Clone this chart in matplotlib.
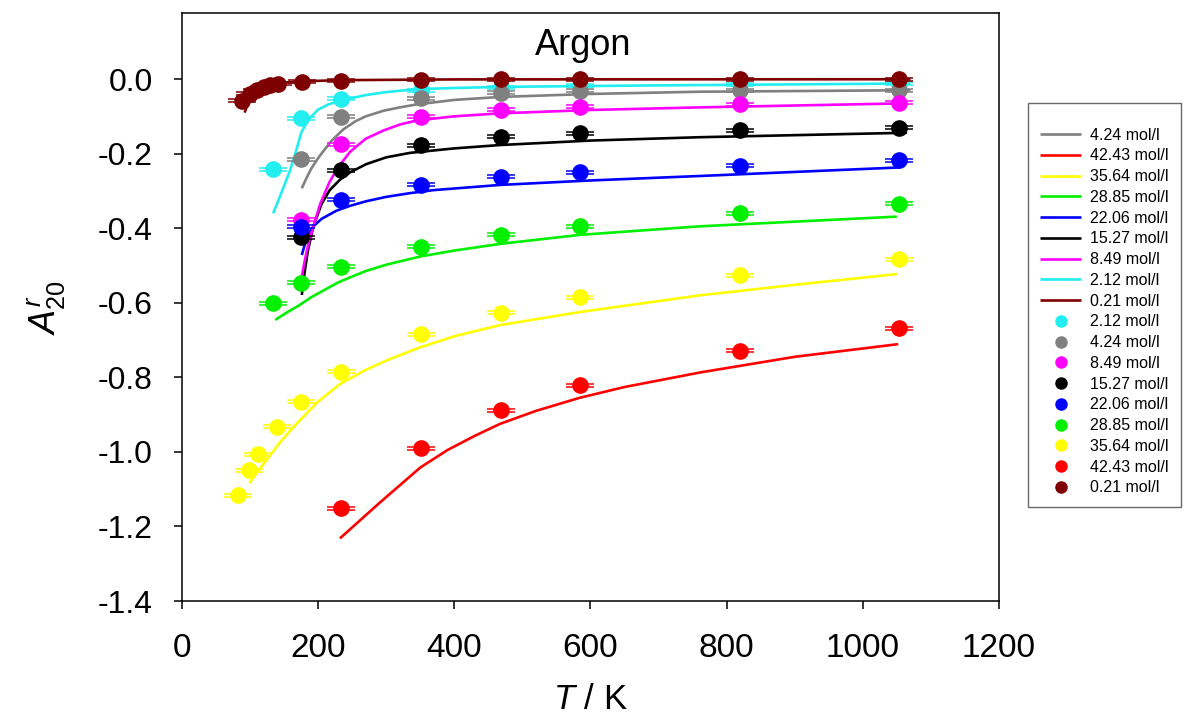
#!/usr/bin/env python3
import numpy as np
import matplotlib
matplotlib.use('Agg')
import matplotlib.pyplot as plt

plt.rcParams['font.family'] = ['Liberation Sans', 'DejaVu Sans']
plt.rcParams['mathtext.fontset'] = 'custom'
plt.rcParams['mathtext.rm'] = 'Liberation Sans'
plt.rcParams['mathtext.it'] = 'Liberation Sans:italic'
plt.rcParams['axes.unicode_minus'] = False

# Measured points (T in K, A20r)
T_cyan = [134, 175, 234, 351, 468, 585, 819, 1053]
A_cyan = [-0.242, -0.105, -0.053, -0.030, -0.022, -0.018, -0.014, -0.012]
T_gray = [175, 234, 351, 468, 585, 819, 1053]
A_gray = [-0.215, -0.101, -0.052, -0.037, -0.032, -0.030, -0.030]
T_magenta = [175, 234, 351, 468, 585, 819, 1053]
A_magenta = [-0.378, -0.175, -0.101, -0.083, -0.074, -0.067, -0.063]
T_black = [175, 234, 351, 468, 585, 819, 1053]
A_black = [-0.424, -0.244, -0.177, -0.155, -0.146, -0.137, -0.130]
T_blue = [175, 234, 351, 468, 585, 819, 1053]
A_blue = [-0.396, -0.324, -0.283, -0.262, -0.250, -0.232, -0.218]
T_green = [134, 175, 234, 351, 468, 585, 819, 1053]
A_green = [-0.602, -0.546, -0.503, -0.450, -0.418, -0.395, -0.360, -0.335]
T_yellow = [82, 99, 111, 140, 175, 234, 351, 468, 585, 819, 1053]
A_yellow = [-1.116, -1.049, -1.006, -0.932, -0.866, -0.785, -0.685, -0.627, -0.585, -0.526, -0.484]
T_red = [234, 351, 468, 585, 819, 1053]
A_red = [-1.151, -0.990, -0.888, -0.821, -0.729, -0.669]
T_maroon = [88, 100, 110, 120, 129, 141, 176, 234, 351, 468, 585, 819, 1053]
A_maroon = [-0.058, -0.040, -0.030, -0.022, -0.017, -0.013, -0.007, -0.004, -0.002, -0.001, -0.001, -0.001, -0.001]
YERR = 0.004

# Model curves
TL_cyan = [134, 145, 159, 168, 175, 185, 200, 215, 237, 270, 300, 345, 400, 467, 700, 1070]
AL_cyan = [-0.360, -0.310, -0.244, -0.190, -0.145, -0.110, -0.082, -0.068, -0.056, -0.043,
           -0.035, -0.027, -0.024, -0.021, -0.017, -0.012]
TL_gray = [176, 183, 190, 200, 207, 220, 237, 255, 270, 296, 320, 345, 400, 467, 600, 761, 1070]
AL_gray = [-0.293, -0.265, -0.240, -0.212, -0.195, -0.165, -0.135, -0.113, -0.100, -0.085,
           -0.076, -0.068, -0.056, -0.048, -0.040, -0.034, -0.030]
TL_magenta = [176, 180, 186, 193, 203, 217, 230, 247, 270, 296, 320, 345, 400, 467, 600, 761, 1065]
AL_magenta = [-0.530, -0.490, -0.440, -0.396, -0.335, -0.275, -0.235, -0.195, -0.160, -0.138,
              -0.122, -0.111, -0.100, -0.092, -0.083, -0.076, -0.065]
TL_black = [176, 180, 185, 193, 205, 217, 232, 247, 271, 300, 335, 400, 467, 600, 761, 1065]
AL_black = [-0.579, -0.520, -0.460, -0.395, -0.335, -0.298, -0.270, -0.250, -0.228, -0.210,
            -0.198, -0.186, -0.177, -0.165, -0.156, -0.144]
TL_blue = [176, 181, 186, 193, 205, 227, 247, 270, 300, 335, 369, 467, 600, 761, 1055]
AL_blue = [-0.472, -0.440, -0.415, -0.395, -0.375, -0.353, -0.340, -0.328, -0.316, -0.306,
           -0.298, -0.284, -0.272, -0.260, -0.237]
TL_green = [137, 155, 173, 190, 210, 230, 247, 270, 300, 350, 400, 468, 584, 761, 1050]
AL_green = [-0.646, -0.625, -0.606, -0.585, -0.565, -0.545, -0.532, -0.515, -0.498, -0.476,
            -0.460, -0.442, -0.418, -0.395, -0.369]
TL_yellow = [99, 110, 124, 145, 168, 200, 232, 270, 300, 349, 400, 467, 584, 761, 900, 1050]
AL_yellow = [-1.084, -1.055, -1.022, -0.972, -0.925, -0.865, -0.818, -0.780, -0.755, -0.720,
             -0.690, -0.660, -0.625, -0.580, -0.552, -0.523]
TL_red = [232, 290, 350, 390, 430, 467, 520, 584, 650, 761, 900, 1052]
AL_red = [-1.232, -1.137, -1.042, -0.995, -0.957, -0.925, -0.890, -0.855, -0.826, -0.787,
          -0.745, -0.711]
TL_maroon = [92, 96, 100, 105, 110, 117, 125, 137, 150, 176, 234, 400, 1070]
AL_maroon = [-0.090, -0.070, -0.057, -0.045, -0.036, -0.027, -0.020, -0.014, -0.010, -0.006,
             -0.003, -0.001, -0.0005]

C_CYAN = '#22EEF0'
C_GRAY = '#808080'
C_MAG = '#FF00FF'
C_BLACK = '#000000'
C_BLUE = '#0000FF'
C_GREEN = '#00F000'
C_YELLOW = '#FFFF00'
C_RED = '#FF0000'
C_MAROON = '#7F0000'

series = {
    '0.21 mol/l': (C_MAROON, T_maroon, A_maroon, TL_maroon, AL_maroon),
    '2.12 mol/l': (C_CYAN, T_cyan, A_cyan, TL_cyan, AL_cyan),
    '4.24 mol/l': (C_GRAY, T_gray, A_gray, TL_gray, AL_gray),
    '8.49 mol/l': (C_MAG, T_magenta, A_magenta, TL_magenta, AL_magenta),
    '15.27 mol/l': (C_BLACK, T_black, A_black, TL_black, AL_black),
    '22.06 mol/l': (C_BLUE, T_blue, A_blue, TL_blue, AL_blue),
    '28.85 mol/l': (C_GREEN, T_green, A_green, TL_green, AL_green),
    '35.64 mol/l': (C_YELLOW, T_yellow, A_yellow, TL_yellow, AL_yellow),
    '42.43 mol/l': (C_RED, T_red, A_red, TL_red, AL_red),
}

line_order = ['4.24 mol/l', '42.43 mol/l', '35.64 mol/l', '28.85 mol/l', '22.06 mol/l',
              '15.27 mol/l', '8.49 mol/l', '2.12 mol/l', '0.21 mol/l']
point_order = ['2.12 mol/l', '4.24 mol/l', '8.49 mol/l', '15.27 mol/l', '22.06 mol/l',
               '28.85 mol/l', '35.64 mol/l', '42.43 mol/l', '0.21 mol/l']

fig = plt.figure(figsize=(11.87, 7.25), dpi=100)
ax = fig.add_axes([0.1533, 0.171, 0.6883, 0.811])

line_handles = {}
point_handles = {}
for name in line_order:
    col, T, A, TL, AL = series[name]
    ln, = ax.plot(TL, AL, color=col, lw=1.9, zorder=2, solid_capstyle='butt')
    line_handles[name] = ln
for i, name in enumerate(point_order):
    col, T, A, TL, AL = series[name]
    ax.errorbar(T, A, yerr=YERR, fmt='none', ecolor=col, elinewidth=1.1,
                capsize=10, capthick=1.1, zorder=3 + 0.01 * i)
    pt, = ax.plot(T, A, 'o', color=col, ms=12, mec='none', zorder=3.005 + 0.01 * i)
    point_handles[name] = pt

ax.set_xlim(0, 1200)
ax.set_ylim(-1.4, 0.177)
ax.set_xticks(np.arange(0, 1201, 200))
yt = np.arange(-1.4, 0.01, 0.2)
ax.set_yticks(yt)
ax.set_yticklabels([f'{v:.1f}' if abs(v) > 1e-9 else '0.0' for v in yt])
ax.tick_params(direction='out', length=6, width=1.1, top=False, right=False)
ax.tick_params(axis='x', labelsize=24, pad=17)
ax.tick_params(axis='y', labelsize=23, pad=15)
for s in ax.spines.values():
    s.set_linewidth(1.1)

ax.set_xlabel(r'$T$ / K', fontsize=25, labelpad=14)
ax.set_ylabel(r'$A^{r}_{20}$', fontsize=26, labelpad=22)
ax.text(0.491, 0.975, 'Argon', transform=ax.transAxes, ha='center', va='top', fontsize=26)

handles = [line_handles[n] for n in line_order] + [point_handles[n] for n in point_order]
labels = line_order + point_order
leg = fig.legend(handles, labels, loc='upper left', bbox_to_anchor=(0.866, 0.858),
                 borderaxespad=0, fontsize=11.5, frameon=True, fancybox=False,
                 edgecolor='#444444', handlelength=2.6, handletextpad=0.55,
                 labelspacing=0.36, borderpad=0.75, markerscale=0.75,
                 title=' ', title_fontsize=6)
leg.get_frame().set_linewidth(1.0)

fig.patch.set_facecolor('white')
fig.savefig('out.png', dpi=100)
